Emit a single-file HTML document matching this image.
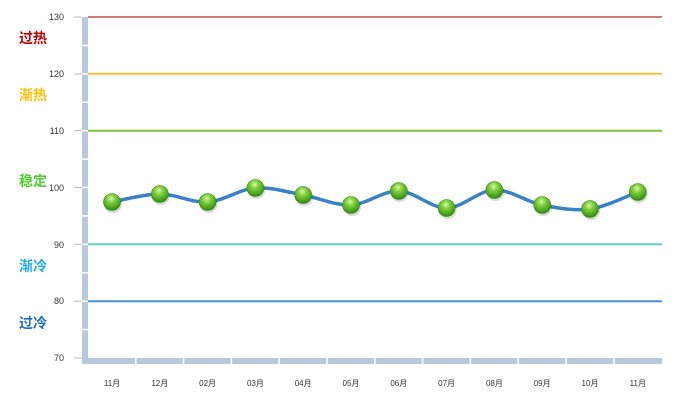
<!DOCTYPE html>
<html><head><meta charset="utf-8"><style>
body{margin:0;background:#fff;width:682px;height:408px;overflow:hidden}
svg{display:block}
text{font-family:"Liberation Sans","Noto Sans CJK SC",sans-serif}
</style></head><body>
<svg id="s" width="682" height="408" xmlns="http://www.w3.org/2000/svg">
<defs>
<radialGradient id="g" cx="45%" cy="30%" r="70%">
<stop offset="0" stop-color="#d8f5b0"/><stop offset="0.35" stop-color="#7fd13a"/><stop offset="1" stop-color="#2f8a10"/>
</radialGradient>
</defs>
<rect x="82" y="17" width="6" height="347" fill="#b8c9dc"/>
<rect x="82" y="358" width="580" height="6" fill="#b8c9dc"/>
<g stroke="#fff" stroke-width="1.5" id="sep"></g>
<g stroke="#bbb" stroke-width="1" id="ticks"></g>
<line x1="88" y1="17" x2="662" y2="17" stroke="#c0504d" stroke-width="1.5"/>
<line x1="88" y1="73.8" x2="662" y2="73.8" stroke="#fbbf3a" stroke-width="2"/>
<line x1="88" y1="130.7" x2="662" y2="130.7" stroke="#77cc33" stroke-width="2"/>
<line x1="88" y1="244.3" x2="662" y2="244.3" stroke="#5fd0c0" stroke-width="2"/>
<line x1="88" y1="301.2" x2="662" y2="301.2" stroke="#4a8fd0" stroke-width="2"/>
<g font-size="9" fill="#333" text-anchor="end">
<text x="64" y="20">130</text><text x="64" y="77">120</text><text x="64" y="134">110</text>
<text x="64" y="191">100</text><text x="64" y="248">90</text><text x="64" y="304">80</text><text x="64" y="361">70</text>
</g>
<g font-size="14" font-weight="bold">
<text x="19" y="43" fill="#c00000">过热</text>
<text x="19" y="100" fill="#ffc000">渐热</text>
<text x="19" y="186" fill="#55cc33">稳定</text>
<text x="19" y="271" fill="#22aaee">渐冷</text>
<text x="19" y="328" fill="#1f6fbf">过冷</text>
</g>
<path id="curve" fill="none" stroke="#3a82c8" stroke-width="3.5"/>
<g id="pts"></g>
<g id="xl" font-size="8" fill="#333" text-anchor="middle"></g>
</svg>
<script>
var ys=[202,194,202,188,195,205,191,208,190,205,209,192];
var lab=["11月","12月","02月","03月","04月","05月","06月","07月","08月","09月","10月","11月"];
var ns="http://www.w3.org/2000/svg";
function el(t,a,p){var e=document.createElementNS(ns,t);for(var k in a)e.setAttribute(k,a[k]);document.getElementById(p).appendChild(e);return e;}
var P=ys.map(function(y,i){return [112+47.8*i,y];});
var d="M"+P[0][0]+","+P[0][1];
for(var i=0;i<P.length-1;i++){var p0=P[i-1]||P[i],p1=P[i],p2=P[i+1],p3=P[i+2]||p2;
var c1=[p1[0]+(p2[0]-p0[0])/6,p1[1]+(p2[1]-p0[1])/6],c2=[p2[0]-(p3[0]-p1[0])/6,p2[1]-(p3[1]-p1[1])/6];
d+=" C"+c1+" "+c2+" "+p2;}
document.getElementById("curve").setAttribute("d",d);
P.forEach(function(p,i){el("circle",{cx:p[0]+1,cy:p[1]+2,r:9,fill:"rgba(0,0,0,0.15)"},"pts");
el("circle",{cx:p[0],cy:p[1],r:8.5,fill:"url(#g)",stroke:"#3a8a1a","stroke-width":0.6},"pts");
var t=el("text",{x:p[0],y:386},"xl");t.textContent=lab[i];});
for(var i=1;i<12;i++){var x=88+47.8*i;el("line",{x1:x,y1:358,x2:x,y2:364},"sep");}
for(var v=75;v<130;v+=5){var y=358-(v-70)*5.683;el("line",{x1:82,y1:y,x2:88,y2:y},"sep");}
for(var v=70;v<=130;v+=10){var y=358-(v-70)*5.683;el("line",{x1:74,y1:y,x2:82,y2:y},"ticks");}
</script>
</body></html>
